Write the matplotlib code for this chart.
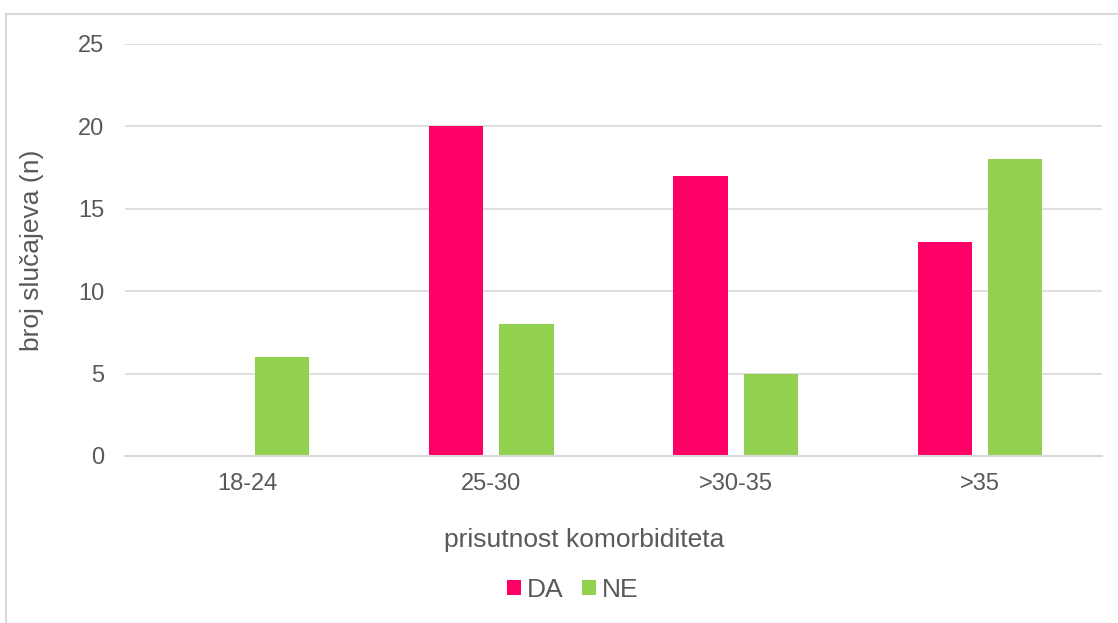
import numpy as np
import matplotlib.pyplot as plt
from matplotlib.lines import Line2D

categories = ['18-24', '25-30', '>30-35', '>35']
da = [0, 20, 17, 13]
ne = [6, 8, 5, 18]
yticks = [0, 5, 10, 15, 20, 25]

plt.rcParams['font.family'] = ['Liberation Sans', 'DejaVu Sans']
text_col = '#595959'
grid_col = '#d9d9d9'

W, H = 1118, 623
fig = plt.figure(figsize=(W / 100, H / 100), dpi=100)
ax = fig.add_axes([125 / W, (H - 456) / H, (1102 - 125) / W, (456 - 44) / H])

x = np.arange(len(categories))
bw = 0.222
off = 0.144
ax.bar(x - off, da, bw, color='#ff0066', label='DA', zorder=3)
ax.bar(x + off, ne, bw, color='#92d050', label='NE', zorder=3)

ax.set_xlim(-0.5, len(categories) - 0.5)
ax.set_ylim(0, 25)
ax.set_yticks(yticks)
ax.set_xticks(x)
ax.set_xticklabels(categories)
ax.grid(axis='y', color=grid_col, linewidth=1.2, zorder=0)
ax.tick_params(length=0, labelsize=17, colors=text_col)
ax.tick_params(axis='y', pad=15)
ax.tick_params(axis='x', pad=12)
for s in ['top', 'right', 'left']:
    ax.spines[s].set_visible(False)
ax.spines['bottom'].set_color(grid_col)
ax.spines['bottom'].set_linewidth(1.5)
ax.spines['bottom'].set_zorder(4)

fig.text(584 / W, 1 - 540 / H, 'prisutnost komorbiditeta', ha='center', va='center',
         fontsize=19, color=text_col)
fig.text(32 / W, 1 - 250 / H, 'broj slučajeva (n)', ha='center', va='center',
         rotation=90, fontsize=19, color=text_col)

fig.legend(loc='center', bbox_to_anchor=(573 / W, 1 - 590 / H), ncol=2, frameon=False,
           fontsize=19, labelcolor=text_col, handlelength=0.53, handleheight=0.53,
           handletextpad=0.23, columnspacing=0.7)

# chart frame (cropped on right/bottom)
fig.add_artist(Line2D([6 / W, 6 / W], [0, 1 - 14 / H], transform=fig.transFigure,
                      color=grid_col, linewidth=1.5))
fig.add_artist(Line2D([6 / W, 1], [1 - 14 / H, 1 - 14 / H], transform=fig.transFigure,
                      color=grid_col, linewidth=1.5))

fig.savefig('out.png', dpi=100)
